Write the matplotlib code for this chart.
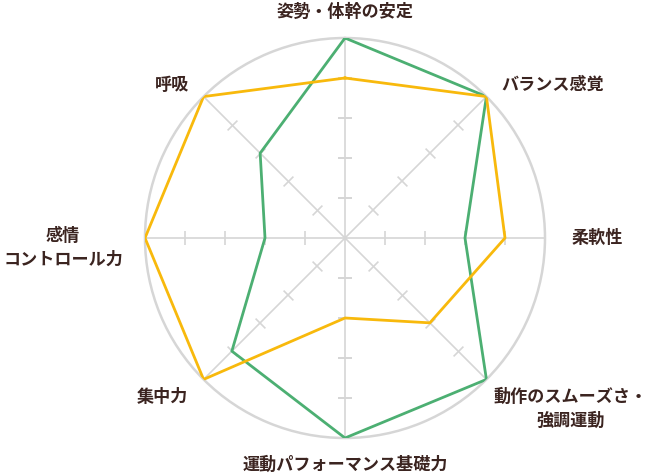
import numpy as np
import matplotlib
matplotlib.use("Agg")
import matplotlib.pyplot as plt

plt.rcParams['font.family'] = ['Noto Sans CJK JP', 'DejaVu Sans']

# axes, clockwise from the top
categories = ["姿勢・体幹の安定", "バランス感覚", "柔軟性", "動作のスムーズさ・\n強調運動",
              "運動パフォーマンス基礎力", "集中力", "感情\nコントロール力", "呼吸"]
green_vals = [5, 5, 3, 5, 5, 4, 2, 3]
yellow_vals = [4, 5, 4, 3, 2, 5, 5, 5]
levels = [1, 2, 3, 4]

# label positions in pixels (from the top left of the picture)
label_px = [(345, 12), (553, 85), (597, 238), (571, 409),
            (345, 465), (162, 397), (63, 248), (172, 85)]

W, H = 647, 476
fig = plt.figure(figsize=(W / 100, H / 100), dpi=100)
cx, cy, R = 345, 238, 200
ax = fig.add_axes([(cx - R) / W, (H - cy - R) / H, 2 * R / W, 2 * R / H], projection="polar")
ax.set_theta_zero_location("N")
ax.set_theta_direction(-1)
ax.set_ylim(0, 5)

grid_c = "#d6d6d6"
n = len(categories)
angles = np.arange(n) * 2 * np.pi / n

ax.set_xticks(angles)
ax.set_xticklabels([])
ax.set_yticks([])
ax.xaxis.grid(True, color=grid_c, lw=1.2)
ax.yaxis.grid(False)
ax.spines["polar"].set_color(grid_c)
ax.spines["polar"].set_linewidth(1.8)

# small cross ticks on each spoke
for a in angles:
    rot = 90 - np.degrees(a)
    ax.plot([a] * len(levels), levels, ls="none", marker=(2, 0, rot),
            ms=10, mew=1.2, color=grid_c, zorder=2)

closed = np.append(angles, angles[0])
ax.plot(closed, green_vals + green_vals[:1], color="#4caf72", lw=2, zorder=3)
ax.plot(closed, yellow_vals + yellow_vals[:1], color="#f8b90c", lw=2, zorder=4)

for text, (px, py) in zip(categories, label_px):
    fig.text(px / W, 1 - py / H, text, ha="center", va="center", fontsize=12.3,
             fontweight="bold", color="#3b2420", linespacing=1.45)

fig.savefig("out.png", dpi=100)
